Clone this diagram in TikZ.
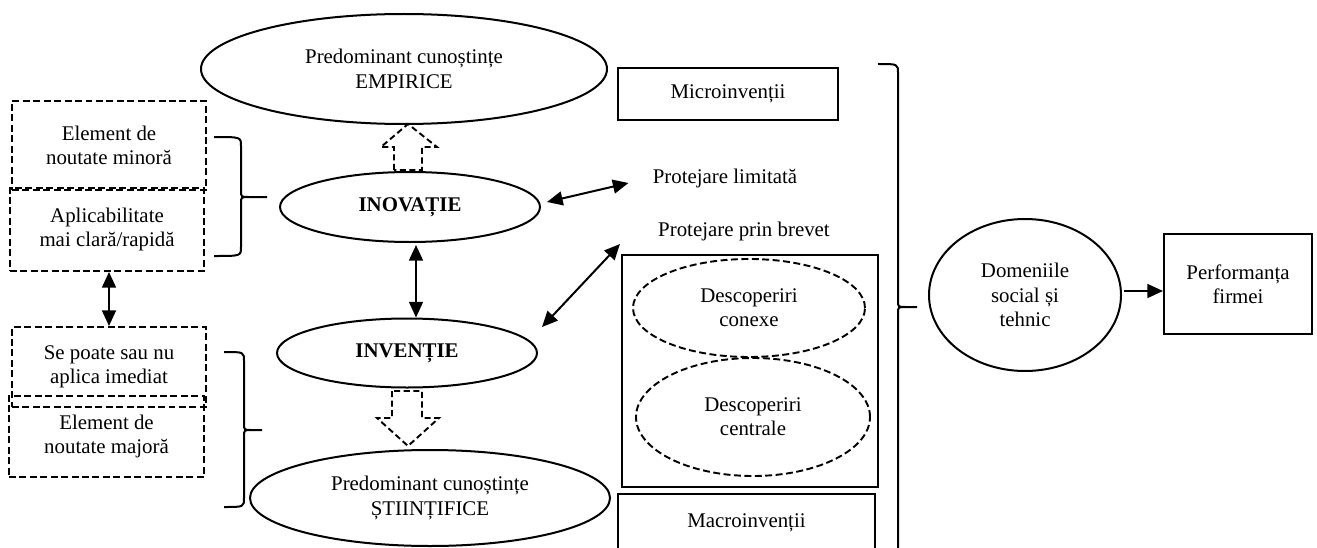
\documentclass[tikz,border=0pt]{standalone}
\usepackage{fontspec}
\setmainfont{Liberation Serif}
\usetikzlibrary{arrows.meta,shapes.geometric,calc}
\newdimen\pxu \pxu=0.575pt
\tikzset{
 txt/.style={font=\fontsize{12}{14}\selectfont, align=center, inner sep=0pt},
 ell/.style={txt, ellipse, draw, line width=1.15pt},
 dell/.style={txt, ellipse, draw, line width=1.1pt, dash pattern=on 4pt off 2pt},
 mybox/.style={txt, rectangle, draw, line width=1.15pt},
 dbox/.style={txt, rectangle, draw, line width=1.15pt, dash pattern=on 4pt off 2pt},
 arr/.style={line width=1.15pt, -{Triangle[length=9pt,width=8pt]}},
 dbl/.style={line width=1.15pt, {Triangle[length=9pt,width=8pt]}-{Triangle[length=9pt,width=8pt]}},
 brc/.style={line width=1.15pt},
 hollow/.style={line width=1.1pt, dash pattern=on 3.5pt off 2pt, line join=miter}
}
\newcommand\rbr[6]{\draw[brc] (#1,#4) .. controls (#2,#4) .. (#2,#4+9) -- (#2,#5-6) .. controls (#2,#5) .. (#2+8,#5) -- (#3,#5) (#2+8,#5) .. controls (#2,#5) .. (#2,#5+6) -- (#2,#6-9) .. controls (#2,#6) .. (#1,#6);}
\begin{document}
\begin{tikzpicture}[x=0.575pt,y=-0.575pt]
\useasboundingbox (0,0) rectangle (1317,548);
\clip (0,0) rectangle (1317,548);
% central column
\node[ell, minimum width=406\pxu, minimum height=110\pxu] (emp) at (404,69) {Predominant cunoștințe\\EMPIRICE};
\node[ell, minimum width=260\pxu, minimum height=70\pxu, font=\fontsize{12}{14}\selectfont\bfseries] (inov) at (410,207) {INOVAȚIE};
\node[ell, minimum width=260\pxu, minimum height=69\pxu, font=\fontsize{12}{14}\selectfont\bfseries] (inv) at (407,353) {INVENȚIE};
\node[ell, minimum width=360\pxu, minimum height=96\pxu] (stiin) at (430,498) {Predominant cunoștințe\\ȘTIINȚIFICE};
% left dashed boxes
\node[dbox, minimum width=194\pxu, minimum height=89\pxu] (b1) at (109,145.5) {Element de\\noutate minoră};
\node[dbox, minimum width=194\pxu, minimum height=83\pxu] (b2) at (107,229.5) {Aplicabilitate\\mai clară/rapidă};
\node[dbox, minimum width=194\pxu, minimum height=80\pxu] (b3) at (109,367) {Se poate sau nu\\aplica imediat};
\node[dbox, minimum width=195\pxu, minimum height=81\pxu] (b4) at (106.5,436.5) {Element de\\noutate majoră};
% right column
\node[mybox, minimum width=220\pxu, minimum height=52\pxu] (micro) at (728,94) {Microinvenții};
\node[txt] (plim) at (725,178) {Protejare limitată};
\node[txt] (pbrev) at (744,231) {Protejare prin brevet};
\node[mybox, minimum width=256\pxu, minimum height=232\pxu] (big) at (750,371) {};
\node[dell, minimum width=232\pxu, minimum height=98\pxu] (conexe) at (749,308) {Descoperiri\\conexe};
\node[dell, minimum width=234\pxu, minimum height=118\pxu] (centrale) at (753,417) {Descoperiri\\centrale};
\node[mybox, minimum width=257\pxu, minimum height=58\pxu] (macro) at (746.5,523) {Macroinvenții};
\node[ell, minimum width=192\pxu, minimum height=152\pxu] (dom) at (1025,295) {Domeniile\\social și\\tehnic};
\node[mybox, minimum width=148\pxu, minimum height=100\pxu] (perf) at (1238,284) {Performanța\\firmei};
% hollow dashed block arrows
\draw[hollow] (394,170) -- (394,147) -- (381,147) -- (408,124) -- (437,147) -- (422,147) -- (422,170) -- cycle;
\draw[hollow] (392,391) -- (392,418) -- (377,418) -- (408,446) -- (439,418) -- (422,418) -- (422,391) -- cycle;
% connectors
\draw[dbl] ([shift={(6,-5)}]inov.east) -- ([shift={(-24,5)}]plim.west);
\coordinate (iA) at ([shift={(6,2)}]inov.south);
\draw[dbl] (iA) -- (iA |- inv.north);
\draw[dbl] ([shift={(4,-26)}]inv.east) -- ([shift={(-1,-10)}]big.north west);
\draw[dbl] (b3.north |- b2.south) -- (b3.north);
\coordinate (dA) at ([shift={(2,-4)}]dom.east);
\draw[arr] (dA) -- (dA -| perf.west);
% braces
\rbr{214}{241}{267}{137}{197}{256}
\rbr{224}{244}{262}{352}{430}{507}
\draw[brc] (878,64) .. controls (898,64) .. (898,73) -- (898,301) .. controls (898,307) .. (906,307) -- (917,307) (906,307) .. controls (898,307) .. (898,313) -- (898,560);
\end{tikzpicture}
\end{document}
